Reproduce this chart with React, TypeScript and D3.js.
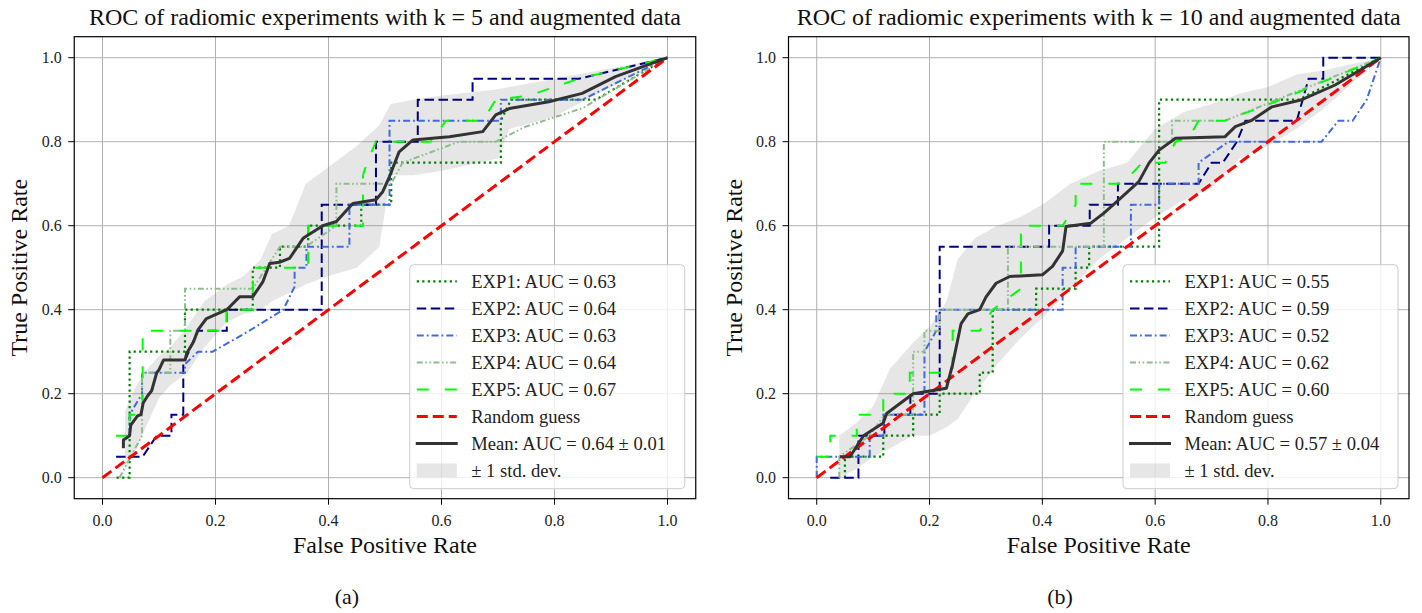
import React from "react";
import * as d3 from "d3";

type Pt = [number, number];

const TICKS = [0, 0.2, 0.4, 0.6, 0.8, 1.0];
const TICK_LABELS = ["0.0", "0.2", "0.4", "0.6", "0.8", "1.0"];

// ---------- k = 5 ----------
const K5_TITLE = "ROC of radiomic experiments with k = 5 and augmented data";
const K5_EXP1: Pt[] = [[0.025,0],[0.048,0],[0.048,0.30],[0.146,0.30],[0.146,0.40],[0.266,0.40],[0.266,0.50],[0.314,0.50],[0.314,0.55],[0.364,0.55],[0.364,0.60],[0.458,0.60],[0.458,0.65],[0.511,0.65],[0.511,0.75],[0.705,0.75],[0.705,0.85],[0.723,0.90],[0.873,0.90],[1,1]];
const K5_EXP2: Pt[] = [[0.024,0.05],[0.071,0.05],[0.096,0.10],[0.122,0.10],[0.122,0.15],[0.143,0.15],[0.143,0.27],[0.169,0.35],[0.22,0.35],[0.22,0.40],[0.388,0.40],[0.388,0.65],[0.484,0.65],[0.484,0.80],[0.558,0.80],[0.558,0.90],[0.655,0.90],[0.655,0.95],[0.843,0.95],[1,1]];
const K5_EXP3: Pt[] = [[0.048,0.10],[0.048,0.15],[0.07,0.20],[0.07,0.25],[0.146,0.25],[0.146,0.27],[0.169,0.30],[0.195,0.30],[0.26,0.35],[0.32,0.40],[0.34,0.455],[0.34,0.50],[0.361,0.50],[0.361,0.55],[0.437,0.55],[0.437,0.65],[0.508,0.65],[0.508,0.85],[0.705,0.85],[0.705,0.90],[0.849,0.90],[1,1]];
const K5_EXP4: Pt[] = [[0.03,0],[0.05,0.05],[0.07,0.10],[0.07,0.25],[0.12,0.25],[0.12,0.35],[0.146,0.35],[0.146,0.45],[0.266,0.45],[0.29,0.50],[0.314,0.55],[0.36,0.55],[0.414,0.60],[0.414,0.70],[0.511,0.70],[0.531,0.75],[0.631,0.80],[0.696,0.80],[0.749,0.836],[0.85,0.88],[1,1]];
const K5_EXP5: Pt[] = [[0.024,0.10],[0.048,0.10],[0.048,0.15],[0.071,0.15],[0.071,0.35],[0.22,0.35],[0.22,0.40],[0.266,0.40],[0.266,0.50],[0.364,0.50],[0.364,0.60],[0.461,0.60],[0.461,0.72],[0.468,0.75],[0.484,0.80],[0.581,0.80],[0.608,0.85],[0.673,0.85],[0.696,0.90],[0.755,0.91],[0.843,0.95],[1,1]];
const K5_MEAN: Pt[] = [[0.037,0.07],[0.037,0.09],[0.048,0.10],[0.05,0.125],[0.062,0.147],[0.068,0.15],[0.072,0.178],[0.08,0.195],[0.087,0.207],[0.096,0.25],[0.10,0.257],[0.108,0.28],[0.146,0.28],[0.149,0.296],[0.161,0.323],[0.169,0.352],[0.184,0.379],[0.22,0.40],[0.243,0.431],[0.266,0.431],[0.284,0.467],[0.296,0.51],[0.313,0.513],[0.331,0.522],[0.355,0.57],[0.378,0.59],[0.39,0.60],[0.414,0.61],[0.443,0.653],[0.484,0.662],[0.496,0.681],[0.508,0.717],[0.525,0.776],[0.549,0.804],[0.614,0.812],[0.673,0.824],[0.696,0.864],[0.72,0.879],[0.79,0.895],[0.849,0.915],[0.908,0.955],[1,1]];
const K5_BAND_X = [0.04,0.06,0.08,0.10,0.12,0.15,0.18,0.20,0.22,0.25,0.28,0.30,0.33,0.36,0.40,0.45,0.49,0.51,0.55,0.60,0.70,0.72,0.80,0.90,1.0];
const K5_BAND_HI = [0.16,0.22,0.26,0.29,0.31,0.36,0.42,0.44,0.46,0.48,0.52,0.58,0.60,0.70,0.74,0.79,0.84,0.89,0.90,0.91,0.925,0.93,0.95,0.975,1.0];
const K5_BAND_LO = [0.02,0.07,0.13,0.19,0.22,0.25,0.31,0.34,0.37,0.39,0.40,0.42,0.44,0.46,0.48,0.50,0.55,0.72,0.72,0.73,0.76,0.83,0.86,0.93,1.0];
const K5_LABELS = ["EXP1: AUC = 0.63","EXP2: AUC = 0.64","EXP3: AUC = 0.63","EXP4: AUC = 0.64","EXP5: AUC = 0.67","Random guess","Mean: AUC = 0.64 \u00b1 0.01","\u00b1 1 std. dev."];

// ---------- k = 10 ----------
const K10_TITLE = "ROC of radiomic experiments with k = 10 and augmented data";
const K10_EXP1: Pt[] = [[0.05,0],[0.05,0.05],[0.118,0.05],[0.118,0.10],[0.171,0.10],[0.171,0.15],[0.218,0.15],[0.218,0.20],[0.289,0.20],[0.289,0.25],[0.312,0.25],[0.312,0.40],[0.389,0.40],[0.389,0.45],[0.459,0.45],[0.459,0.50],[0.483,0.50],[0.483,0.55],[0.607,0.55],[0.607,0.90],[0.854,0.90],[1,1]];
const K10_EXP2: Pt[] = [[0.024,0],[0.074,0],[0.074,0.10],[0.12,0.10],[0.12,0.15],[0.166,0.15],[0.166,0.20],[0.218,0.20],[0.218,0.55],[0.412,0.55],[0.412,0.60],[0.484,0.60],[0.484,0.65],[0.534,0.65],[0.534,0.70],[0.677,0.70],[0.70,0.75],[0.72,0.75],[0.745,0.80],[0.76,0.85],[0.851,0.85],[0.872,0.95],[0.898,0.95],[0.898,1.0],[1,1]];
const K10_EXP3: Pt[] = [[0,0],[0,0.05],[0.094,0.05],[0.094,0.10],[0.118,0.10],[0.118,0.15],[0.191,0.15],[0.191,0.30],[0.212,0.35],[0.212,0.40],[0.436,0.40],[0.436,0.50],[0.459,0.50],[0.459,0.55],[0.557,0.55],[0.557,0.65],[0.607,0.65],[0.607,0.70],[0.677,0.70],[0.677,0.75],[0.73,0.80],[0.895,0.80],[0.925,0.85],[0.95,0.85],[0.975,0.90],[1,1]];
const K10_EXP4: Pt[] = [[0.04,0],[0.04,0.05],[0.094,0.10],[0.12,0.15],[0.171,0.15],[0.171,0.30],[0.191,0.30],[0.191,0.35],[0.218,0.35],[0.218,0.40],[0.339,0.40],[0.339,0.55],[0.509,0.55],[0.509,0.80],[0.63,0.80],[0.63,0.85],[0.724,0.85],[1,1]];
const K10_EXP5: Pt[] = [[0,0.05],[0.024,0.05],[0.024,0.10],[0.071,0.10],[0.071,0.15],[0.118,0.15],[0.118,0.20],[0.165,0.20],[0.165,0.25],[0.241,0.25],[0.241,0.35],[0.289,0.35],[0.312,0.40],[0.362,0.45],[0.362,0.60],[0.436,0.60],[0.459,0.65],[0.459,0.70],[0.542,0.70],[0.577,0.75],[0.618,0.75],[0.636,0.80],[0.66,0.81],[0.677,0.85],[0.724,0.85],[0.813,0.895],[1,1]];
const K10_MEAN: Pt[] = [[0.041,0.05],[0.059,0.05],[0.071,0.075],[0.083,0.10],[0.10,0.115],[0.118,0.13],[0.124,0.153],[0.141,0.17],[0.171,0.20],[0.23,0.213],[0.241,0.27],[0.256,0.367],[0.268,0.39],[0.289,0.40],[0.30,0.43],[0.318,0.463],[0.342,0.479],[0.40,0.483],[0.418,0.503],[0.436,0.54],[0.442,0.598],[0.486,0.606],[0.509,0.63],[0.53,0.655],[0.571,0.705],[0.589,0.749],[0.607,0.78],[0.636,0.808],[0.724,0.812],[0.742,0.836],[0.77,0.85],[0.807,0.883],[0.86,0.90],[0.919,0.935],[1,1]];
const K10_BAND_X = [0.04,0.07,0.10,0.13,0.17,0.20,0.23,0.25,0.28,0.32,0.36,0.40,0.45,0.50,0.55,0.60,0.65,0.70,0.75,0.80,0.85,0.90,1.0];
const K10_BAND_HI = [0.10,0.13,0.17,0.26,0.32,0.36,0.42,0.52,0.57,0.60,0.62,0.65,0.70,0.73,0.75,0.83,0.87,0.89,0.915,0.93,0.96,0.97,1.0];
const K10_BAND_LO = [0.00,0.02,0.05,0.07,0.10,0.10,0.12,0.14,0.20,0.27,0.33,0.38,0.45,0.52,0.57,0.62,0.66,0.69,0.76,0.79,0.83,0.88,1.0];
const K10_LABELS = ["EXP1: AUC = 0.55","EXP2: AUC = 0.59","EXP3: AUC = 0.52","EXP4: AUC = 0.62","EXP5: AUC = 0.60","Random guess","Mean: AUC = 0.57 \u00b1 0.04","\u00b1 1 std. dev."];

const DIAG: Pt[] = [[0, 0], [1, 1]];

const EXP_STYLES = [
  { color: "#008000", dash: "2.2 3.3", width: 2.2 },
  { color: "#000080", dash: "9.5 4.5", width: 2 },
  { color: "#4169E1", dash: "7 3 1.8 3", width: 2 },
  { color: "#8FBC8F", dash: "6 2.5 1.6 2.5 1.6 2.5", width: 2 },
  { color: "#00FF00", dash: "12 16", width: 2 },
];
const RANDOM_STYLE = { color: "#FF0000", dash: "11 5", width: 3 };
const MEAN_STYLE = { color: "#333333", width: 3 };

const FONT = "'Liberation Serif', 'DejaVu Serif', serif";
const AX_Y0 = 36.7;
const AX_Y1 = 498.7;

type PanelProps = {
  x0: number;
  x1: number;
  title: string;
  exps: Pt[][];
  mean: Pt[];
  bandX: number[];
  bandLo: number[];
  bandHi: number[];
  labels: string[];
  caption: string;
  captionX: number;
  id: string;
};

function Panel(p: PanelProps) {
  const xs = d3.scaleLinear().domain([-0.05, 1.05]).range([p.x0, p.x1]);
  const ys = d3.scaleLinear().domain([-0.05, 1.05]).range([AX_Y1, AX_Y0]);
  const line = d3.line<Pt>().x((d) => xs(d[0])).y((d) => ys(d[1]));
  const area = d3
    .area<number>()
    .x((d) => xs(d))
    .y0((_, i) => ys(p.bandLo[i]))
    .y1((_, i) => ys(p.bandHi[i]));
  const cx = (p.x0 + p.x1) / 2;
  const cy = (AX_Y0 + AX_Y1) / 2;

  const legW = 275;
  const legH = 224;
  const legX = p.x1 - 11 - legW;
  const legY = AX_Y1 - 10 - legH;
  const rowH = 27.0;
  const row0 = legY + 16.7;

  return (
    <g>
      <defs>
        <clipPath id={`clip-${p.id}`}>
          <rect x={p.x0} y={AX_Y0} width={p.x1 - p.x0} height={AX_Y1 - AX_Y0} />
        </clipPath>
      </defs>
      {TICKS.map((t) => (
        <g key={`g${t}`}>
          <line x1={xs(t)} x2={xs(t)} y1={AX_Y0} y2={AX_Y1} stroke="#b0b0b0" strokeWidth={1} />
          <line x1={p.x0} x2={p.x1} y1={ys(t)} y2={ys(t)} stroke="#b0b0b0" strokeWidth={1} />
        </g>
      ))}
      <g clipPath={`url(#clip-${p.id})`}>
        <path d={area(p.bandX) || ""} fill="#808080" fillOpacity={0.2} stroke="none" />
        {p.exps.map((e, i) => (
          <path
            key={`e${i}`}
            d={line(e) || ""}
            fill="none"
            stroke={EXP_STYLES[i].color}
            strokeWidth={EXP_STYLES[i].width}
            strokeDasharray={EXP_STYLES[i].dash}
          />
        ))}
        <path d={line(DIAG) || ""} fill="none" stroke={RANDOM_STYLE.color} strokeWidth={RANDOM_STYLE.width} strokeDasharray={RANDOM_STYLE.dash} />
        <path d={line(p.mean) || ""} fill="none" stroke={MEAN_STYLE.color} strokeWidth={MEAN_STYLE.width} strokeLinejoin="round" />
      </g>
      <rect x={p.x0} y={AX_Y0} width={p.x1 - p.x0} height={AX_Y1 - AX_Y0} fill="none" stroke="#000" strokeWidth={1.2} />
      {TICKS.map((t, i) => (
        <g key={`t${t}`}>
          <line x1={xs(t)} x2={xs(t)} y1={AX_Y1} y2={AX_Y1 + 6} stroke="#000" strokeWidth={1} />
          <text x={xs(t)} y={525.5} textAnchor="middle" fontSize={16} fontFamily={FONT} fill="#222">
            {TICK_LABELS[i]}
          </text>
          <line x1={p.x0 - 6} x2={p.x0} y1={ys(t)} y2={ys(t)} stroke="#000" strokeWidth={1} />
          <text x={p.x0 - 12.5} y={ys(t) + 5.5} textAnchor="end" fontSize={16} fontFamily={FONT} fill="#222">
            {TICK_LABELS[i]}
          </text>
        </g>
      ))}
      <text x={cx} y={25} textAnchor="middle" fontSize={24} fontFamily={FONT} fill="#111">
        {p.title}
      </text>
      <text x={cx} y={553} textAnchor="middle" fontSize={24} fontFamily={FONT} fill="#111">
        False Positive Rate
      </text>
      <text
        transform={`translate(${p.x0 - 47},${cy}) rotate(-90)`}
        textAnchor="middle"
        fontSize={24}
        fontFamily={FONT}
        fill="#111"
      >
        True Positive Rate
      </text>
      <text x={p.captionX} y={604} textAnchor="middle" fontSize={22} fontFamily={FONT} fill="#111">
        {p.caption}
      </text>
      <rect x={legX} y={legY} width={legW} height={legH} rx={4} fill="#fff" fillOpacity={0.8} stroke="#cccccc" strokeWidth={1} />
      {p.labels.map((lab, i) => {
        const yc = row0 + i * rowH;
        const hx0 = legX + 7;
        const hx1 = legX + 47;
        let handle: React.ReactNode;
        if (i < 5) {
          const s = EXP_STYLES[i];
          handle = <line x1={hx0} x2={hx1} y1={yc} y2={yc} stroke={s.color} strokeWidth={s.width} strokeDasharray={s.dash} />;
        } else if (i === 5) {
          handle = <line x1={hx0} x2={hx1} y1={yc} y2={yc} stroke={RANDOM_STYLE.color} strokeWidth={RANDOM_STYLE.width} strokeDasharray={RANDOM_STYLE.dash} />;
        } else if (i === 6) {
          handle = <line x1={hx0 - 1} x2={hx1 + 1} y1={yc} y2={yc} stroke={MEAN_STYLE.color} strokeWidth={MEAN_STYLE.width} />;
        } else {
          handle = <rect x={hx0} y={yc - 7} width={40} height={14} fill="#808080" fillOpacity={0.2} />;
        }
        return (
          <g key={`l${i}`}>
            {handle}
            <text x={legX + 61.5} y={yc + 6.2} fontSize={18.6} fontFamily={FONT} fill="#222">
              {lab}
            </text>
          </g>
        );
      })}
    </g>
  );
}

export default function App() {
  return (
    <svg
      width={1422}
      height={613}
      viewBox="0 0 1422 613"
      style={{ position: "absolute", left: 0, top: 0, background: "#fff" }}
    >
      <rect x={0} y={0} width={1422} height={613} fill="#fff" />
      <Panel
        id="a"
        x0={74.25}
        x1={695.75}
        title={K5_TITLE}
        exps={[K5_EXP1, K5_EXP2, K5_EXP3, K5_EXP4, K5_EXP5]}
        mean={K5_MEAN}
        bandX={K5_BAND_X}
        bandLo={K5_BAND_LO}
        bandHi={K5_BAND_HI}
        labels={K5_LABELS}
        caption="(a)"
        captionX={347}
      />
      <Panel
        id="b"
        x0={788.5}
        x1={1409}
        title={K10_TITLE}
        exps={[K10_EXP1, K10_EXP2, K10_EXP3, K10_EXP4, K10_EXP5]}
        mean={K10_MEAN}
        bandX={K10_BAND_X}
        bandLo={K10_BAND_LO}
        bandHi={K10_BAND_HI}
        labels={K10_LABELS}
        caption="(b)"
        captionX={1060}
      />
    </svg>
  );
}
